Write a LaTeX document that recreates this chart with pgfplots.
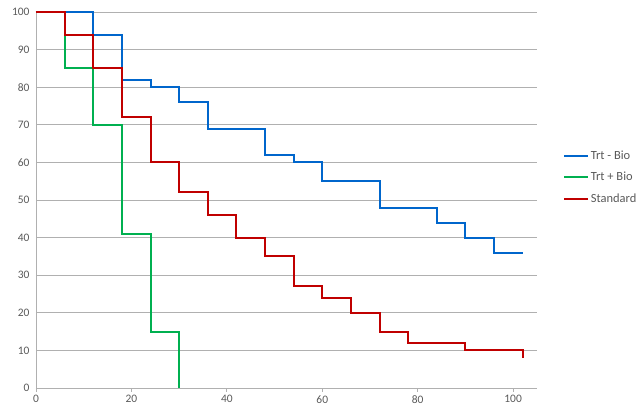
\documentclass[border=0pt]{standalone}
\usepackage{fontspec}
\setmainfont{Carlito}
\usepackage{pgfplots}
\pgfplotsset{compat=1.18}
\definecolor{cblue}{HTML}{0066CC}
\definecolor{cgreen}{HTML}{00B050}
\definecolor{cred}{HTML}{C00000}
\definecolor{ctext}{HTML}{595959}
\definecolor{cgrid}{HTML}{B0B0B0}
\begin{document}
\begin{tikzpicture}
\path[use as bounding box] (0,0) rectangle (640bp,414bp);
\begin{axis}[
  at={(36bp,26bp)}, anchor=south west,
  scale only axis, width=501bp, height=376bp,
  xmin=0, xmax=105, ymin=0, ymax=100,
  xtick={0,20,...,100}, ytick={0,10,...,100},
  ymajorgrids, grid style={cgrid, line width=0.8bp},
  axis x line*=bottom, axis y line*=left,
  x axis line style={cgrid, line width=0.8bp, -},
  y axis line style={cgrid, line width=0.8bp, -},
  xtick style={cgrid, line width=0.8bp}, major tick length=4bp,
  xtick pos=bottom, tick align=outside,
  ytick style={draw=none},
  tick label style={font=\fontsize{11.5}{13}\selectfont, text=ctext},
  yticklabel style={xshift=1bp},
  /pgf/number format/assume math mode=true,
  legend style={at={(1.052,0.56)}, anchor=west, draw=none, fill=none,
    font=\fontsize{12.5}{14}\selectfont, text=ctext, row sep=7.5bp,
    inner xsep=0pt, nodes={inner xsep=1.5bp}},
  legend cell align=left,
  legend image code/.code={\draw[#1] (0cm,0cm) -- (0.85cm,0cm);},
  every axis plot/.append style={line width=2bp, const plot},
]
\addplot[cblue] coordinates {(0,100) (12,94) (18,82) (24,80) (30,76) (36,69) (48,62) (54,60) (60,55) (72,48) (84,44) (90,40) (96,36) (102,36)};
\addlegendentry{Trt - Bio}
\addplot[cgreen] coordinates {(0,100) (6,85) (12,70) (18,41) (24,15) (30,15) (30,0)};
\addlegendentry{Trt + Bio}
\addplot[cred] coordinates {(0,100) (6,94) (12,85) (18,72) (24,60) (30,52) (36,46) (42,40) (48,35) (54,27) (60,24) (66,20) (72,15) (78,12) (90,10) (102,10) (102,8)};
\addlegendentry{Standard}
\end{axis}
\end{tikzpicture}
\end{document}
